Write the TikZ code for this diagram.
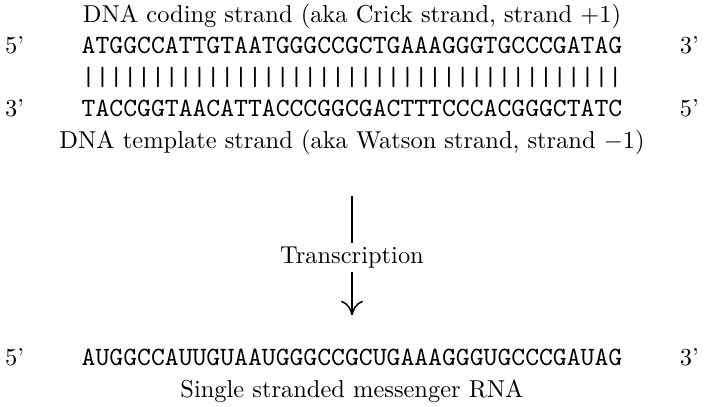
\documentclass[tikz,border=0pt]{standalone}
\usetikzlibrary{arrows.meta}

\begin{document}
\begin{tikzpicture}[->,>={Computer Modern Rightarrow[length=6pt,width=9pt]},node distance=12.9pt,semithick,
                    every node/.style={inner sep=0pt,text height=7pt,text depth=2pt},
                    strand/.style={font=\fontsize{10.8pt}{13pt}\selectfont\ttfamily}]

	\useasboundingbox (-144pt,6.5pt) rectangle (144pt,-159.6pt);

  	\node (coding)                            {DNA coding strand (aka Crick strand, strand $+1$)};
  	\node[strand] (dnaA) [below of=coding]    {ATGGCCATTGTAATGGGCCGCTGAAAGGGTGCCCGATAG};
	\node[strand] (pairs) [below of=dnaA]     {|||||||||||||||||||||||||||||||||||||||};
	\node[strand] (dnaB) [below of=pairs]     {TACCGGTAACATTACCCGGCGACTTTCCCACGGGCTATC};
	\node (template) [below of=dnaB]          {DNA template strand (aka Watson strand, strand $-1$)};
	\node[strand] (rna) [below of=template,node distance=88.8pt] {AUGGCCAUUGUAAUGGGCCGCUGAAAGGGUGCCCGAUAG};
	\node (single) [below of=rna,node distance=13.1pt] {Single stranded messenger RNA};

	\node (fiveA) [left of=dnaA,node distance=138pt]   {5'};
	\node (threeA) [right of=dnaA,node distance=138pt] {3'};
	\node (threeB) [left of=dnaB,node distance=138pt]  {3'};
	\node (fiveB) [right of=dnaB,node distance=138pt]  {5'};
	\node (fiveC) [left of=rna,node distance=138pt]    {5'};
	\node (threeC) [right of=rna,node distance=138pt]  {3'};

	\path (template) edge [shorten <=17.2pt,shorten >=13.1pt]
	      node[pos=0.535,fill=white,inner sep=1.4pt] {Transcription} (rna);

\end{tikzpicture}
\end{document}
